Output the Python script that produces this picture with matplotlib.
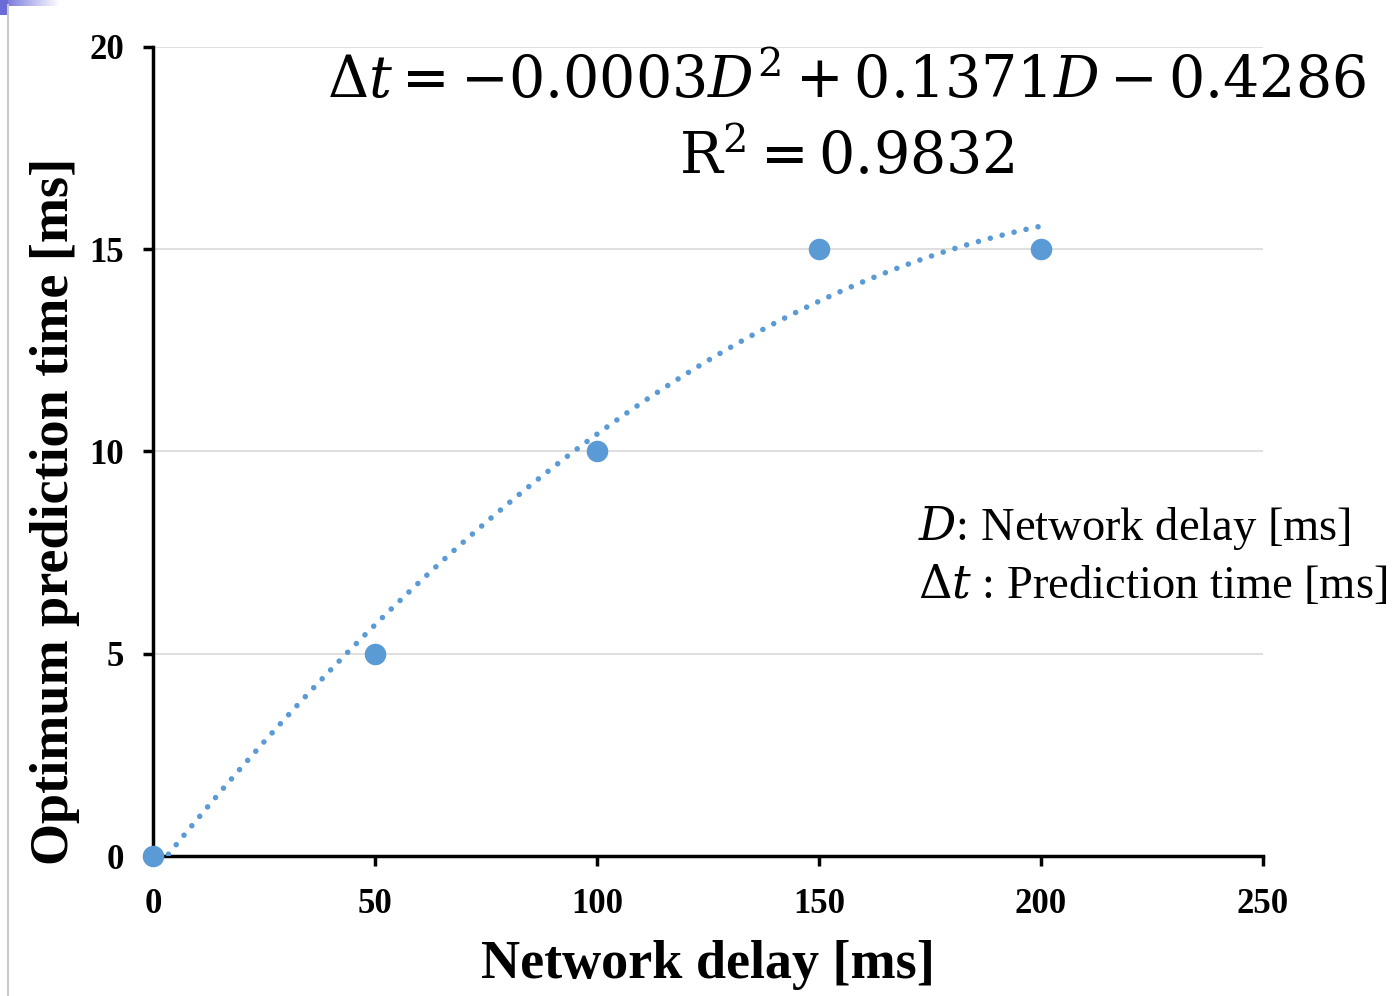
import numpy as np
import matplotlib
matplotlib.use("Agg")
import matplotlib.pyplot as plt
from matplotlib.patches import Rectangle
from matplotlib.lines import Line2D

# Data
delay_ms = [0, 50, 100, 150, 200]
pred_ms = [0, 5, 10, 15, 15]
x_ticks = [0, 50, 100, 150, 200, 250]
y_ticks = [0, 5, 10, 15, 20]

plt.rcParams['mathtext.fontset'] = 'dejavuserif'

fig = plt.figure(figsize=(14, 9.96), dpi=100)
ax = fig.add_axes([153/1400, 1-856/996, (1263-153)/1400, (856-47)/996])

blue = '#5B9BD5'

# trendline (2nd order polynomial fit)
coef = np.polyfit(delay_ms, pred_ms, 2)
xs = np.linspace(0, 200, 300)
ax.plot(xs, np.polyval(coef, xs), color=blue, lw=4.0,
        ls=(0, (0.01, 2.2)), dash_capstyle='round', zorder=3, clip_on=True)

ax.plot(delay_ms, pred_ms, 'o', color=blue, ms=14.5, zorder=4, clip_on=False)

ax.set_xlim(0, 250)
ax.set_ylim(0, 20)
ax.set_xticks(x_ticks)
ax.set_yticks(y_ticks)
ax.yaxis.grid(True, color='#D9D9D9', lw=1.2)
ax.set_axisbelow(True)
for s in ['top', 'right']:
    ax.spines[s].set_visible(False)
for s in ['left', 'bottom']:
    ax.spines[s].set_linewidth(2.5)
    ax.spines[s].set_color('black')
ax.tick_params(axis='both', direction='out', length=7, width=2.5)
ax.tick_params(axis='y', pad=14)
ax.tick_params(axis='x', pad=16)

tick_font = dict(family='Liberation Serif', weight='bold', size=25)
ax.set_xticklabels([str(v) for v in x_ticks], **tick_font)
ax.set_yticklabels([str(v) for v in y_ticks], **tick_font)

ax.set_xlabel('Network delay [ms]', family='Liberation Serif', weight='bold',
              size=39, labelpad=14)
ax.set_ylabel('Optimum prediction time [ms]', family='Liberation Serif',
              weight='bold', size=39)
ax.yaxis.set_label_coords(80/1400, 1-511/996, transform=fig.transFigure)

fig.text(847/1400, 1-82/996, r'$\Delta t=-0.0003D^2+0.1371D-0.4286$',
         ha='center', va='center', size=41)
fig.text(847/1400, 1-158/996, r'$\mathrm{R}^2=0.9832$',
         ha='center', va='center', size=41)

fig.text(918/1400, 1-528/996, r'$D$: Network delay [ms]',
         ha='left', va='center', size=33.5, family='Liberation Serif')
fig.text(918/1400, 1-586/996, r'$\Delta t$ : Prediction time [ms]',
         ha='left', va='center', size=33.5, family='Liberation Serif')

# slide-frame artifacts
fig.add_artist(Line2D([8/1400, 8/1400], [0, 1-5/996], transform=fig.transFigure,
                      color='#C8C8C8', lw=1.5))
grad = np.linspace(0, 1, 100)[None, :]
cmap = matplotlib.colors.LinearSegmentedColormap.from_list('g', ['#6A6AD8', '#FFFFFF'])
axg = fig.add_axes([0, 1-6/996, 60/1400, 6/996])
axg.imshow(grad, aspect='auto', cmap=cmap)
axg.axis('off')
fig.add_artist(Rectangle((0, 1-15/996), 8/1400, 15/996, transform=fig.transFigure,
                         color='#6A6AD8', lw=0))

fig.savefig('out.png', dpi=100)
